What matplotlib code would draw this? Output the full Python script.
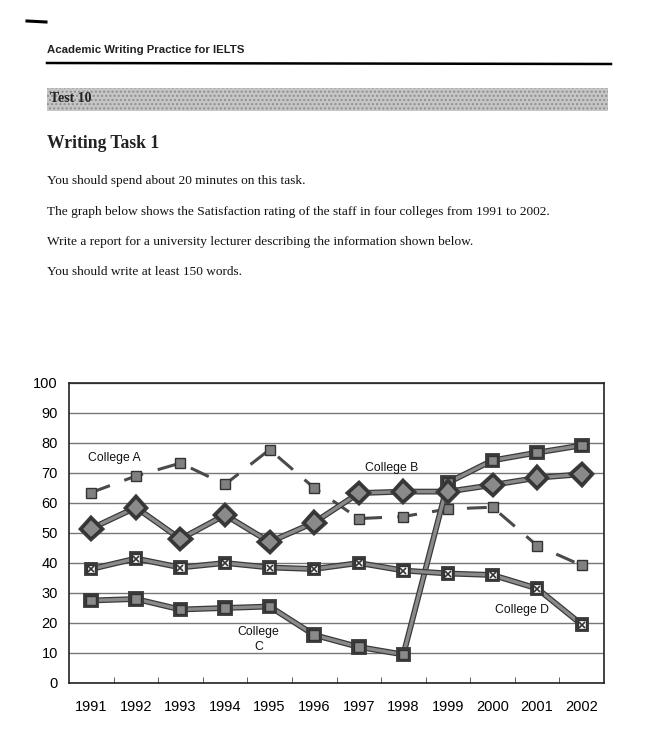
import matplotlib
matplotlib.use("Agg")
import matplotlib.pyplot as plt
import matplotlib.patheffects as pe
from matplotlib.patches import Rectangle
from matplotlib.lines import Line2D

years = ["1991", "1992", "1993", "1994", "1995", "1996",
         "1997", "1998", "1999", "2000", "2001", "2002"]
college_a = [63.5, 69, 73.3, 66.2, 77.8, 65, 54.8, 55.5, 58, 58.6, 45.8, 39.2]
college_b = [51.5, 58.5, 48, 56, 47, 53.5, 63.3, 63.8, 63.8, 66, 68.4, 69.6]
college_c = [27.5, 28, 24.5, 25, 25.5, 16, 12, 9.5, 66.8, 74.2, 76.8, 79.2]
college_d = [38, 41.5, 38.5, 40, 38.5, 38, 40, 37.5, 36.5, 36, 31.5, 19.5]
yticks = [0, 10, 20, 30, 40, 50, 60, 70, 80, 90, 100]

W, H = 671, 754
fig = plt.figure(figsize=(W / 100, H / 100), dpi=100)
fig.patch.set_facecolor("white")

def fx(px):
    return px / W

def fy(py):
    return 1 - py / H

# ---- page elements ----
fig.add_artist(Line2D([fx(27), fx(46)], [fy(21), fy(22)], color="black", lw=2.2))
fig.text(fx(47), fy(50), "Academic Writing Practice for IELTS", ha="left", va="center",
         family=["Liberation Sans Narrow", "Liberation Sans", "DejaVu Sans"], weight="bold",
         fontsize=8.2, color="#222")
fig.add_artist(Line2D([fx(47), fx(611)], [fy(63), fy(64)], color="black", lw=1.8))
fig.add_artist(Rectangle((fx(47), fy(111)), fx(608) - fx(47), fy(88) - fy(111),
                         facecolor="#c6c6c6", edgecolor="#8f8f8f", lw=0, hatch="....",
                         transform=fig.transFigure))
fig.text(fx(50), fy(99), "Test 10", ha="left", va="center",
         family=["Liberation Serif", "DejaVu Serif"], weight="bold", fontsize=10, color="#222")
fig.text(fx(47), fy(143), "Writing Task 1", ha="left", va="center",
         family=["Liberation Serif", "DejaVu Serif"], weight="bold", fontsize=12.7, color="#222")
body = ["You should spend about 20 minutes on this task.",
        "The graph below shows the Satisfaction rating of the staff in four colleges from 1991 to 2002.",
        "Write a report for a university lecturer describing the information shown below.",
        "You should write at least 150 words."]
for t, py in zip(body, [181, 212, 242, 272]):
    fig.text(fx(47), fy(py), t, ha="left", va="center",
             family=["Liberation Serif", "DejaVu Serif"], fontsize=9.6, color="#111")

# ---- chart ----
ax = fig.add_axes([fx(69), fy(683), fx(604) - fx(69), fy(383) - fy(683)])
x = list(range(len(years)))

outline = [pe.Stroke(linewidth=4.2, foreground="#3a3a3a"), pe.Normal()]

ax.plot(x, college_a, color="#4a4a4a", lw=2.2, dashes=(6.5, 5), marker="s", ms=6.5,
        mfc="#808080", mec="#333", mew=1.0, zorder=3)
ax.plot(x, college_c, color="#8a8a8a", lw=2.4, marker="s", ms=7, mfc="#8a8a8a",
        mec="#333", mew=1.0, path_effects=outline, zorder=4)
ax.plot(x, college_b, color="#8a8a8a", lw=2.4, marker="D", ms=9.5, mfc="#8a8a8a",
        mec="#333", mew=1.2, path_effects=outline, zorder=5)
ax.plot(x, college_d, color="#8a8a8a", lw=2.4, marker="s", ms=6, mfc="white",
        mec="#333", mew=1.0, path_effects=outline, zorder=4)
ax.plot(x, college_d, lw=0, marker="x", ms=4.5, mec="#333", mew=1.2, zorder=6)

ax.set_xlim(-0.5, len(years) - 0.5)
ax.set_ylim(0, 100)
ax.set_yticks(yticks)
ax.set_yticklabels([str(v) for v in yticks], family=["Liberation Sans", "DejaVu Sans"],
                   fontsize=10.5)
ax.set_xticks(x)
ax.set_xticklabels(years, family=["Liberation Sans", "DejaVu Sans"], fontsize=10.5)
ax.set_xticks([i + 0.5 for i in range(len(years) - 1)], minor=True)
ax.tick_params(axis="x", which="major", length=0, pad=12)
ax.tick_params(axis="x", which="minor", length=4, direction="in", color="#444")
ax.tick_params(axis="y", length=0, pad=8)
ax.grid(axis="y", color="#777", lw=1.0)
ax.set_axisbelow(True)
for s in ax.spines.values():
    s.set_color("#222")
    s.set_linewidth(1.2)

lab = dict(family=["Liberation Sans", "DejaVu Sans"], fontsize=8.8, color="#111")
ax.text(-0.08, 75, "College A", ha="left", va="center", **lab)
ax.text(6.15, 71.5, "College B", ha="left", va="center", **lab)
ax.text(3.75, 14.5, "College\nC", ha="center", va="center", linespacing=1.3, **lab)
ax.text(9.66, 24.3, "College D", ha="center", va="center", **lab)

fig.savefig("out.png", dpi=100)
